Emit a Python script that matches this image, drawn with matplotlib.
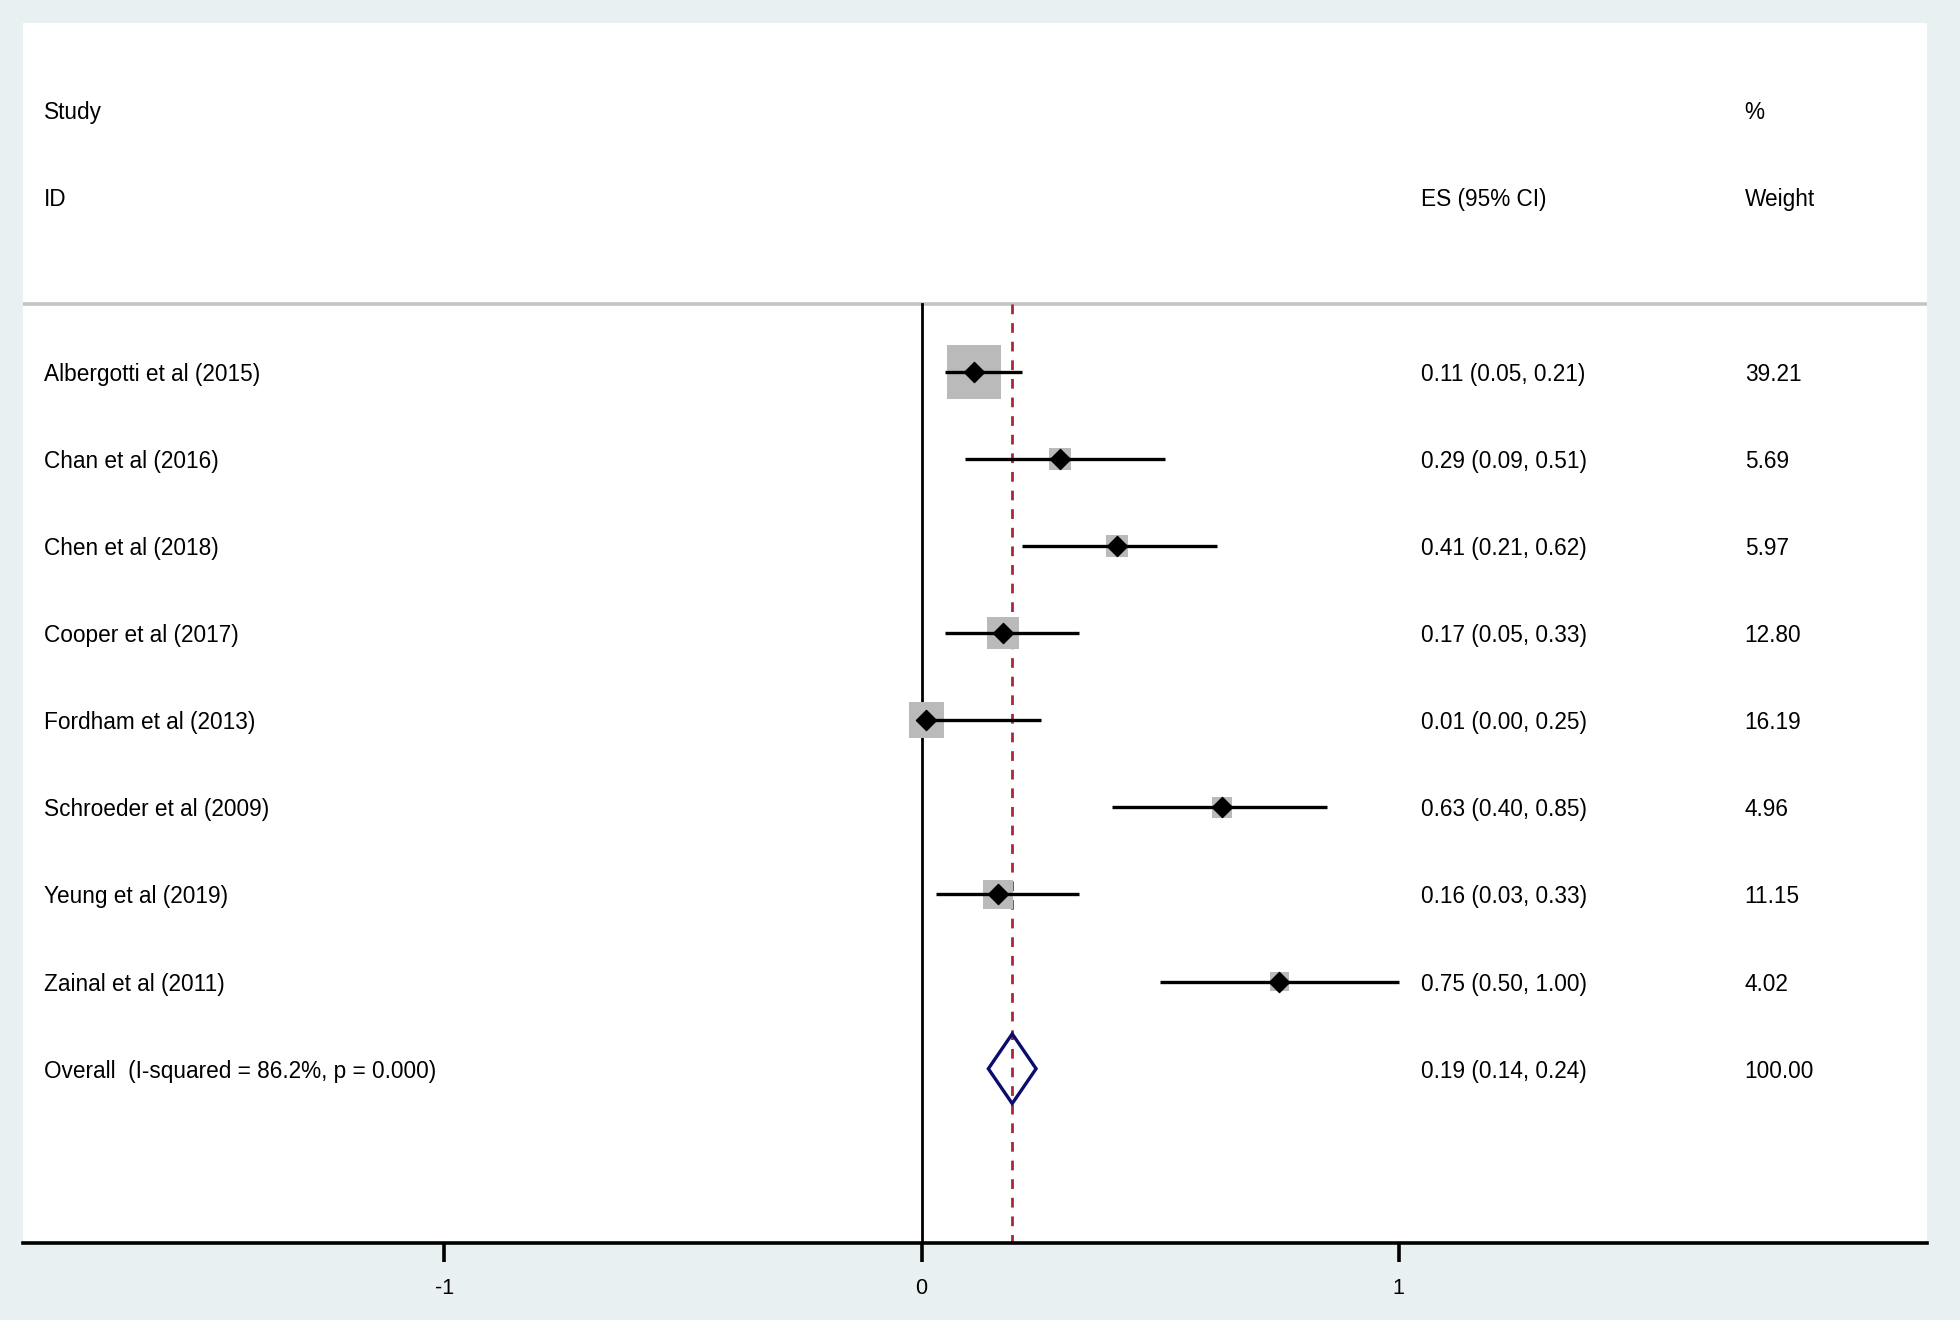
import matplotlib as mpl
import matplotlib.pyplot as plt
import numpy as np

# Forest plot data
studies = [
    "Albergotti et al (2015)",
    "Chan et al (2016)",
    "Chen et al (2018)",
    "Cooper et al (2017)",
    "Fordham et al (2013)",
    "Schroeder et al (2009)",
    "Yeung et al (2019)",
    "Zainal et al (2011)",
]
es = [0.11, 0.29, 0.41, 0.17, 0.01, 0.63, 0.16, 0.75]
ci_low = [0.05, 0.09, 0.21, 0.05, 0.00, 0.40, 0.03, 0.50]
ci_high = [0.21, 0.51, 0.62, 0.33, 0.25, 0.85, 0.33, 1.00]
weights = [39.21, 5.69, 5.97, 12.80, 16.19, 4.96, 11.15, 4.02]

overall_label = "Overall  (I-squared = 86.2%, p = 0.000)"
overall_es = 0.19
overall_low = 0.14
overall_high = 0.24
overall_weight = 100.00

xticks = [-1, 0, 1]

mpl.rcParams.update({
    "font.family": ["Liberation Sans", "DejaVu Sans"],
    "font.size": 16.3,
})

BG = "#e8f0f2"
W, H = 1960, 1320
fig = plt.figure(figsize=(W / 100, H / 100), dpi=100, facecolor=BG)

# axes spans the white panel exactly
x0, x1 = 23, 1927
y0, y1 = 23, 1243
ax = fig.add_axes([x0 / W, 1 - y1 / H, (x1 - x0) / W, (y1 - y0) / H])
ax.set_facecolor("white")

XMIN, XMAX = -1.883, 2.107
ax.set_xlim(XMIN, XMAX)
ax.set_ylim(10, -4)

for s in ["top", "left", "right"]:
    ax.spines[s].set_visible(False)
ax.spines["bottom"].set_linewidth(2.6)
ax.spines["bottom"].set_color("black")
ax.set_yticks([])
ax.set_xticks(xticks)
ax.set_xticklabels([str(t) for t in xticks], fontsize=15.5)
ax.tick_params(axis="x", length=14, width=2.6, pad=11, colors="black")

HEADER_Y = -0.77
ax.axhline(HEADER_Y, color="#c4c4c4", lw=2.6, zorder=1)

# vertical reference lines
ax.plot([0, 0], [HEADER_Y, 10], color="black", lw=2.0, zorder=2)
ax.plot([overall_es, overall_es], [HEADER_Y, 10], color="#a8283a", lw=2.0,
        ls=(0, (3.5, 3.2)), zorder=2)

rows = np.arange(len(studies))

# weight boxes: side proportional to sqrt(weight)
side_px = 52 * np.sqrt(np.array(weights) / max(weights))
ax.scatter(es, rows, marker="s", s=(side_px * 0.72 + 1.5) ** 2, color="#bababa",
           edgecolors="none", zorder=3)
ax.hlines(rows, ci_low, ci_high, color="black", lw=2.4, zorder=4)
ax.scatter(es, rows, marker="D", s=105, color="black", zorder=5)

# overall diamond
oy = len(studies)
diamond_h = 0.4
ax.fill([overall_low, overall_es, overall_high, overall_es, overall_low],
        [oy, oy - diamond_h, oy, oy + diamond_h, oy],
        facecolor="none", edgecolor="#0c0c6e", lw=2.4, zorder=5)

# text columns
TX_STUDY, TX_ES, TX_W = -1.839, 1.046, 1.725
VA = "center_baseline"
ax.text(TX_STUDY, -3, "Study", va=VA, ha="left")
ax.text(TX_STUDY, -2, "ID", va=VA, ha="left")
ax.text(TX_ES, -2, "ES (95% CI)", va=VA, ha="left")
ax.text(TX_W, -3, "%", va=VA, ha="left")
ax.text(TX_W, -2, "Weight", va=VA, ha="left")

for i, name in enumerate(studies):
    ax.text(TX_STUDY, i, name, va=VA, ha="left")
    ax.text(TX_ES, i, f"{es[i]:.2f} ({ci_low[i]:.2f}, {ci_high[i]:.2f})",
            va=VA, ha="left")
    ax.text(TX_W, i, f"{weights[i]:.2f}", va=VA, ha="left")

ax.text(TX_STUDY, oy, overall_label, va=VA, ha="left")
ax.text(TX_ES, oy, f"{overall_es:.2f} ({overall_low:.2f}, {overall_high:.2f})",
        va=VA, ha="left")
ax.text(TX_W, oy, f"{overall_weight:.2f}", va=VA, ha="left")

fig.savefig("out.png", dpi=100, facecolor=BG)
